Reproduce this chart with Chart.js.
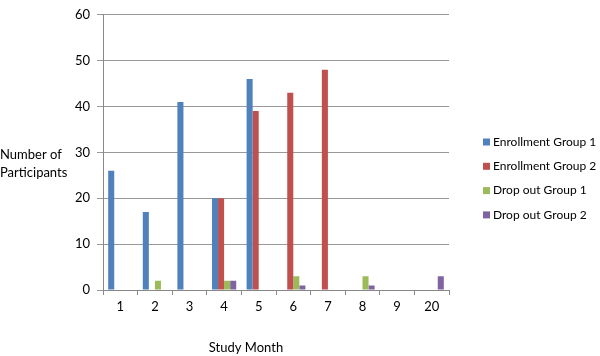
<!DOCTYPE html>
<html>
<head>
<meta charset="utf-8">
<script src="https://cdn.jsdelivr.net/npm/chart.js@4"></script>
<style>
  html, body { margin: 0; padding: 0; background: #fff; }
  #wrap { width: 600px; height: 356px; }
</style>
</head>
<body>
<div id="wrap"><canvas id="chart" width="600" height="356"></canvas></div>
<script>
// data
const months = ['1', '2', '3', '4', '5', '6', '7', '8', '9', '20'];
const enrollGroup1 = [26, 17, 41, 20, 46, 0, 0, 0, 0, 0];
const enrollGroup2 = [0, 0, 0, 20, 39, 43, 48, 0, 0, 0];
const dropGroup1 = [0, 2, 0, 2, 0, 3, 0, 3, 0, 0];
const dropGroup2 = [0, 0, 0, 2, 0, 1, 0, 1, 0, 3];
const seriesNames = ['Enrollment Group 1', 'Enrollment Group 2', 'Drop out Group 1', 'Drop out Group 2'];
const yTicks = [0, 10, 20, 30, 40, 50, 60];

const colors = ['#4F81BD', '#C0504D', '#9BBB59', '#8064A2'];
const FONT = 'Lato, "Open Sans", sans-serif';

// legend + axis titles drawn by hand, Excel style
const extras = {
    id: 'extras',
    afterDraw(chart) {
        const c = chart.ctx;
        c.save();
        c.fillStyle = '#000';
        c.font = '13px ' + FONT;
        c.textBaseline = 'middle';

        // y title, horizontal, two lines
        c.textAlign = 'left';
        c.fillText('Number of', 0, 155);
        c.fillText('Participants', 0, 173);

        // x title
        c.textAlign = 'center';
        c.fillText('Study Month', 246, 348);

        // legend
        c.font = '12px ' + FONT;
        c.textAlign = 'left';
        seriesNames.forEach((name, i) => {
            const y = 142 + i * 24.3;
            c.fillStyle = colors[i];
            c.fillRect(483, y - 3.5, 7, 7);
            c.fillStyle = '#000';
            c.fillText(name, 493, y);
        });
        c.restore();
    }
};

const ctx = document.getElementById('chart').getContext('2d');
const chart = new Chart(ctx, {
    type: 'bar',
    data: {
        labels: months,
        datasets: [enrollGroup1, enrollGroup2, dropGroup1, dropGroup2].map((d, i) => ({
            label: seriesNames[i],
            data: d,
            backgroundColor: colors[i],
            borderWidth: 0,
            barPercentage: 1.0,
            categoryPercentage: 0.7
        }))
    },
    options: {
        responsive: false,
        animation: false,
        devicePixelRatio: 1,
        layout: { padding: { left: 0, right: 151, top: 4, bottom: 0 } },
        plugins: {
            legend: { display: false },
            tooltip: { enabled: false }
        },
        scales: {
            x: {
                grid: {
                    offset: true,
                    drawOnChartArea: false,
                    drawTicks: true,
                    tickLength: 5,
                    color: '#888'
                },
                border: { color: '#888', width: 1 },
                ticks: {
                    color: '#000',
                    font: { family: FONT, size: 13 },
                    padding: 4,
                    maxRotation: 0
                },
                afterFit(scale) { scale.height = 66; }
            },
            y: {
                min: 0,
                max: 60,
                afterBuildTicks(scale) {
                    scale.ticks = yTicks.map(v => ({ value: v }));
                },
                grid: {
                    color: '#999',
                    drawTicks: true,
                    tickLength: 6
                },
                border: { color: '#888', width: 1 },
                ticks: {
                    color: '#000',
                    font: { family: FONT, size: 13 },
                    padding: 7
                },
                afterFit(scale) { scale.width = 103; }
            }
        }
    },
    plugins: [extras]
});
</script>
</body>
</html>
